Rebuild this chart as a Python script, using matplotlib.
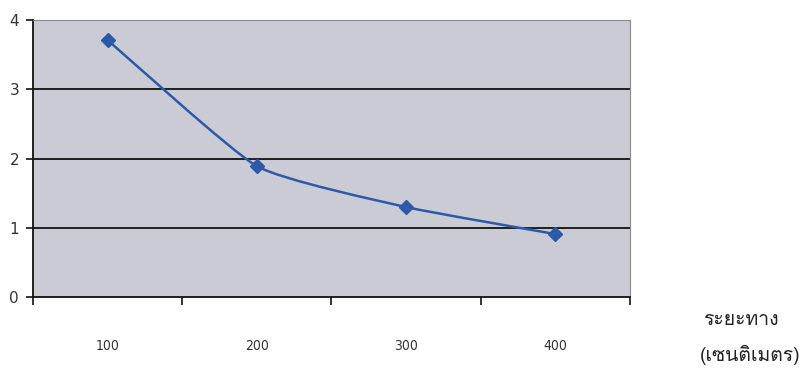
import numpy as np
import matplotlib
matplotlib.use("Agg")
import matplotlib.pyplot as plt
from matplotlib import font_manager
from matplotlib.path import Path
from matplotlib.patches import PathPatch

# Data
categories = ["100", "200", "300", "400"]
values = [3.71, 1.89, 1.30, 0.91]
y_ticks = [0, 1, 2, 3, 4]
x_title = "ระยะทาง\n(เซนติเมตร)"


def thai_font():
    """Return a family name that covers Thai script, if any is installed."""
    from fontTools.ttLib import TTFont
    for f in font_manager.fontManager.ttflist:
        try:
            tt = TTFont(f.fname, fontNumber=0, lazy=True)
            cmap = tt.getBestCmap()
            if cmap and 0x0E23 in cmap and 0x0E40 in cmap:
                return f.name
        except Exception:
            continue
    return "DejaVu Sans"


fig = plt.figure(figsize=(8.11, 3.70), dpi=100)
ax = fig.add_axes([0.0407, 0.197, 0.736, 0.749])

ax.set_facecolor("#cbcbd5")
n = len(categories)
xs = np.arange(n)
ax.set_xlim(-0.5, n - 0.5)
ax.set_ylim(0, 4)

# Horizontal gridlines
for t in y_ticks[1:-1]:
    ax.axhline(t, color="#111111", lw=1.3, zorder=1)

# Lightly smoothed connecting curve (cubic Bezier segments through the points)
pts = np.column_stack([xs, values]).astype(float)
verts = [tuple(pts[0])]
codes = [Path.MOVETO]
k = 1.0 / 12.0
for i in range(n - 1):
    p0 = pts[i - 1] if i > 0 else pts[i]
    p1 = pts[i]
    p2 = pts[i + 1]
    p3 = pts[i + 2] if i + 2 < n else pts[i + 1]
    c1 = p1 + (p2 - p0) * k
    c2 = p2 - (p3 - p1) * k
    verts += [tuple(c1), tuple(c2), tuple(p2)]
    codes += [Path.CURVE4] * 3
ax.add_patch(PathPatch(Path(verts, codes), fill=False, edgecolor="#2d5aa8",
                       lw=1.8, zorder=3))
ax.plot(xs, values, linestyle="none", marker="D", markersize=7,
        color="#2d5aa8", zorder=4)

# Axes frame
for side in ("top", "right"):
    ax.spines[side].set_color("#8a8a8a")
    ax.spines[side].set_linewidth(0.8)
for side in ("left", "bottom"):
    ax.spines[side].set_color("#111111")
    ax.spines[side].set_linewidth(1.3)

ax.set_yticks(y_ticks)
ax.set_yticklabels([str(t) for t in y_ticks], fontsize=11, color="#333333")
ax.tick_params(axis="y", length=5, width=1.2, color="#111111", pad=5)

# Category axis: ticks between categories, labels centred on categories
ax.set_xticks(np.arange(-0.5, n, 1.0))
ax.set_xticklabels([])
ax.tick_params(axis="x", length=6, width=1.2, color="#111111")
for x, lab in zip(xs, categories):
    ax.text(x, -0.6, lab, ha="center", va="top", fontsize=10,
            fontstretch="condensed", color="#333333", transform=ax.transData)

fam = thai_font()
lines = x_title.split("\n")
fig.text(0.913, 0.135, lines[0], ha="center", va="center", fontsize=14,
         family=[fam, "DejaVu Sans"], color="#222222")
fig.text(0.925, 0.04, lines[1], ha="center", va="center", fontsize=14,
         family=[fam, "DejaVu Sans"], color="#222222")

fig.savefig("out.png", dpi=100, facecolor="white")
